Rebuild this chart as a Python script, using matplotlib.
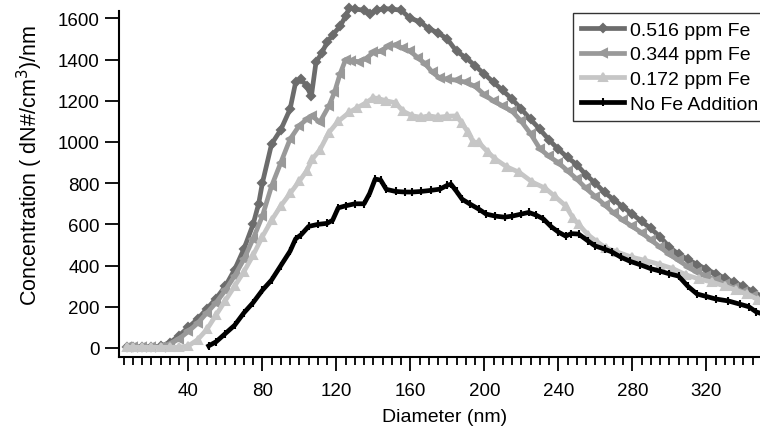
import matplotlib
matplotlib.use("Agg")
import matplotlib.pyplot as plt
from matplotlib.ticker import MultipleLocator

plt.rcParams['font.family'] = ['Liberation Sans', 'DejaVu Sans']

# ---- data ----
d_516 = [7, 10, 15, 20, 25, 30, 35, 40, 45, 50, 55, 60, 65, 70, 75, 78, 80, 85, 90, 95,
         98, 101, 104, 106.5, 109, 112, 115, 118, 122, 125, 127, 130, 135, 138, 142, 146,
         150, 155, 160, 165, 170, 175, 180, 185, 190, 195, 200, 205, 210, 215, 220, 225,
         230, 235, 240, 245, 250, 255, 260, 265, 270, 275, 280, 285, 290, 295, 300, 305,
         310, 315, 320, 325, 330, 335, 340, 345, 350, 355]
c_516 = [5, 5, 5, 5, 8, 25, 60, 100, 140, 190, 240, 300, 380, 480, 600, 700, 800, 990,
         1060, 1160, 1290, 1305, 1270, 1222, 1387, 1430, 1484, 1520, 1562, 1610, 1650,
         1645, 1640, 1622, 1640, 1648, 1645, 1640, 1600, 1585, 1550, 1530, 1500, 1440,
         1410, 1370, 1330, 1290, 1250, 1208, 1160, 1110, 1062, 1010, 965, 925, 890, 840,
         800, 755, 720, 685, 650, 615, 580, 540, 490, 455, 430, 405, 383, 360, 340, 318,
         300, 275, 250, 230]

d_344 = [7, 10, 15, 20, 25, 30, 35, 40, 45, 50, 55, 60, 65, 70, 75, 80, 85, 90, 95, 100,
         104, 107, 111, 116, 119, 122, 125, 128, 132, 136, 140, 144, 148, 152, 156, 160,
         164, 168, 172, 176, 180, 185, 190, 195, 200, 205, 210, 215, 220, 225, 230, 235,
         240, 245, 250, 255, 260, 265, 270, 275, 280, 285, 290, 295, 300, 305, 310, 315,
         320, 325, 330, 335, 340, 345, 350, 355]
c_344 = [5, 5, 5, 5, 6, 18, 45, 80, 120, 170, 220, 280, 350, 430, 530, 640, 786, 900,
         1014, 1080, 1110, 1127, 1095, 1175, 1241, 1330, 1400, 1395, 1390, 1405, 1435,
         1440, 1465, 1472, 1455, 1440, 1410, 1380, 1338, 1310, 1305, 1300, 1290, 1270,
         1230, 1200, 1175, 1150, 1100, 1040, 968, 930, 900, 860, 820, 775, 735, 695, 655,
         620, 590, 560, 525, 490, 455, 425, 395, 370, 350, 330, 310, 290, 272, 252, 225,
         210]

d_172 = [7, 10, 15, 20, 25, 30, 35, 40, 45, 50, 55, 60, 65, 70, 75, 80, 85, 90, 95, 100,
         104, 107, 111, 116, 121, 127, 131, 136, 140, 143, 147, 152, 156, 161, 166, 170,
         175, 180, 185, 188, 191, 194, 197, 202, 206, 212, 219, 226, 233, 238, 244, 248,
         251, 256, 261, 266, 272, 280, 287, 295, 302, 309, 316, 323, 330, 336, 342, 348,
         355]
c_172 = [3, 3, 3, 3, 3, 3, 4, 10, 40, 90, 160, 230, 300, 370, 450, 540, 620, 690, 750,
         810, 860, 917, 960, 1046, 1100, 1144, 1165, 1190, 1215, 1210, 1200, 1190, 1150,
         1127, 1120, 1127, 1120, 1125, 1127, 1090, 1050, 1000, 998, 950, 917, 880, 852,
         805, 775, 737, 690, 630, 600, 550, 515, 485, 465, 440, 425, 405, 385, 355, 335,
         320, 300, 280, 262, 235, 210]

d_0 = [51, 55, 60, 65, 70, 75, 80, 85, 90, 95, 98, 101, 105, 110, 115, 118, 121, 125,
       130, 135, 138, 141, 144, 147, 152, 157, 161, 166, 171, 176, 180, 182, 185, 188,
       192, 197, 201, 206, 211, 215, 220, 224, 228, 232, 236, 240, 244, 247, 251, 256,
       260, 265, 269, 274, 279, 284, 290, 295, 300, 305, 310, 315, 320, 325, 332, 338,
       343, 347, 352]
c_0 = [10, 30, 70, 110, 170, 220, 280, 330, 400, 470, 530, 550, 590, 600, 605, 620, 680,
       690, 700, 700, 750, 820, 815, 770, 760, 757, 757, 760, 765, 771, 790, 795, 760,
       722, 700, 674, 650, 640, 635, 640, 650, 658, 645, 626, 590, 563, 543, 555, 553,
       520, 495, 480, 466, 440, 420, 405, 385, 373, 360, 349, 300, 262, 250, 238, 228,
       213, 200, 175, 160]

labels = ['0.516 ppm Fe', '0.344 ppm Fe', '0.172 ppm Fe', 'No Fe Addition']
x_ticks = [40, 80, 120, 160, 200, 240, 280, 320]
y_ticks = [0, 200, 400, 600, 800, 1000, 1200, 1400, 1600]

# ---- figure ----
fig = plt.figure(figsize=(7.6, 4.39), dpi=100)
W, H = 760, 439
ax_left, ax_right, ax_top, ax_bot = 119, 771, 12, 358
ax = fig.add_axes([ax_left / W, 1 - ax_bot / H, (ax_right - ax_left) / W,
                   (ax_bot - ax_top) / H])

series = [
    (d_516, c_516, '#6c6c6c', 'D', 4.5),
    (d_344, c_344, '#999999', '<', 5.5),
    (d_172, c_172, '#c6c6c6', '^', 5.5),
    (d_0, c_0, '#000000', '|', 6),
]
for (dx, cy, col, mk, ms), lab in zip(series, labels):
    ax.plot(dx, cy, color=col, lw=3.4, marker=mk, ms=ms, mfc=col, mec=col,
            mew=1.5, label=lab, solid_joinstyle='round', clip_on=False)

ax.set_xlim(2.5, 355)
ax.set_ylim(-44, 1636)
ax.spines['top'].set_visible(False)
ax.spines['right'].set_visible(False)
for s in ('left', 'bottom'):
    ax.spines[s].set_linewidth(1.5)

ax.set_xticks(x_ticks)
ax.set_yticks(y_ticks)
ax.xaxis.set_minor_locator(MultipleLocator(5))
ax.tick_params(axis='x', which='major', length=10, width=1.3, pad=8, labelsize=13.5,
               direction='out')
ax.tick_params(axis='x', which='minor', length=6, width=1.3, direction='out')
ax.tick_params(axis='y', which='major', length=10, width=1.3, pad=4, labelsize=13.5,
               direction='out')

fig.text(445 / W, 1 - 418 / H, 'Diameter (nm)', ha='center', va='center', fontsize=14)
fig.text(30 / W, 1 - 165 / H, r'Concentration ( dN#/cm$^{3}$)/nm', ha='center',
         va='center', rotation=90, fontsize=15.5)

leg = fig.legend(loc='upper left',
                 bbox_to_anchor=(573 / W, 1 - 118 / H, 220 / W, 104 / H),
                 mode='expand',
                 fontsize=14, frameon=True, fancybox=False, edgecolor='black',
                 handlelength=2.2, handletextpad=0.3, borderpad=0.42,
                 labelspacing=0.36, borderaxespad=0)
leg.get_frame().set_linewidth(1.0)

fig.savefig('out.png', dpi=100)
